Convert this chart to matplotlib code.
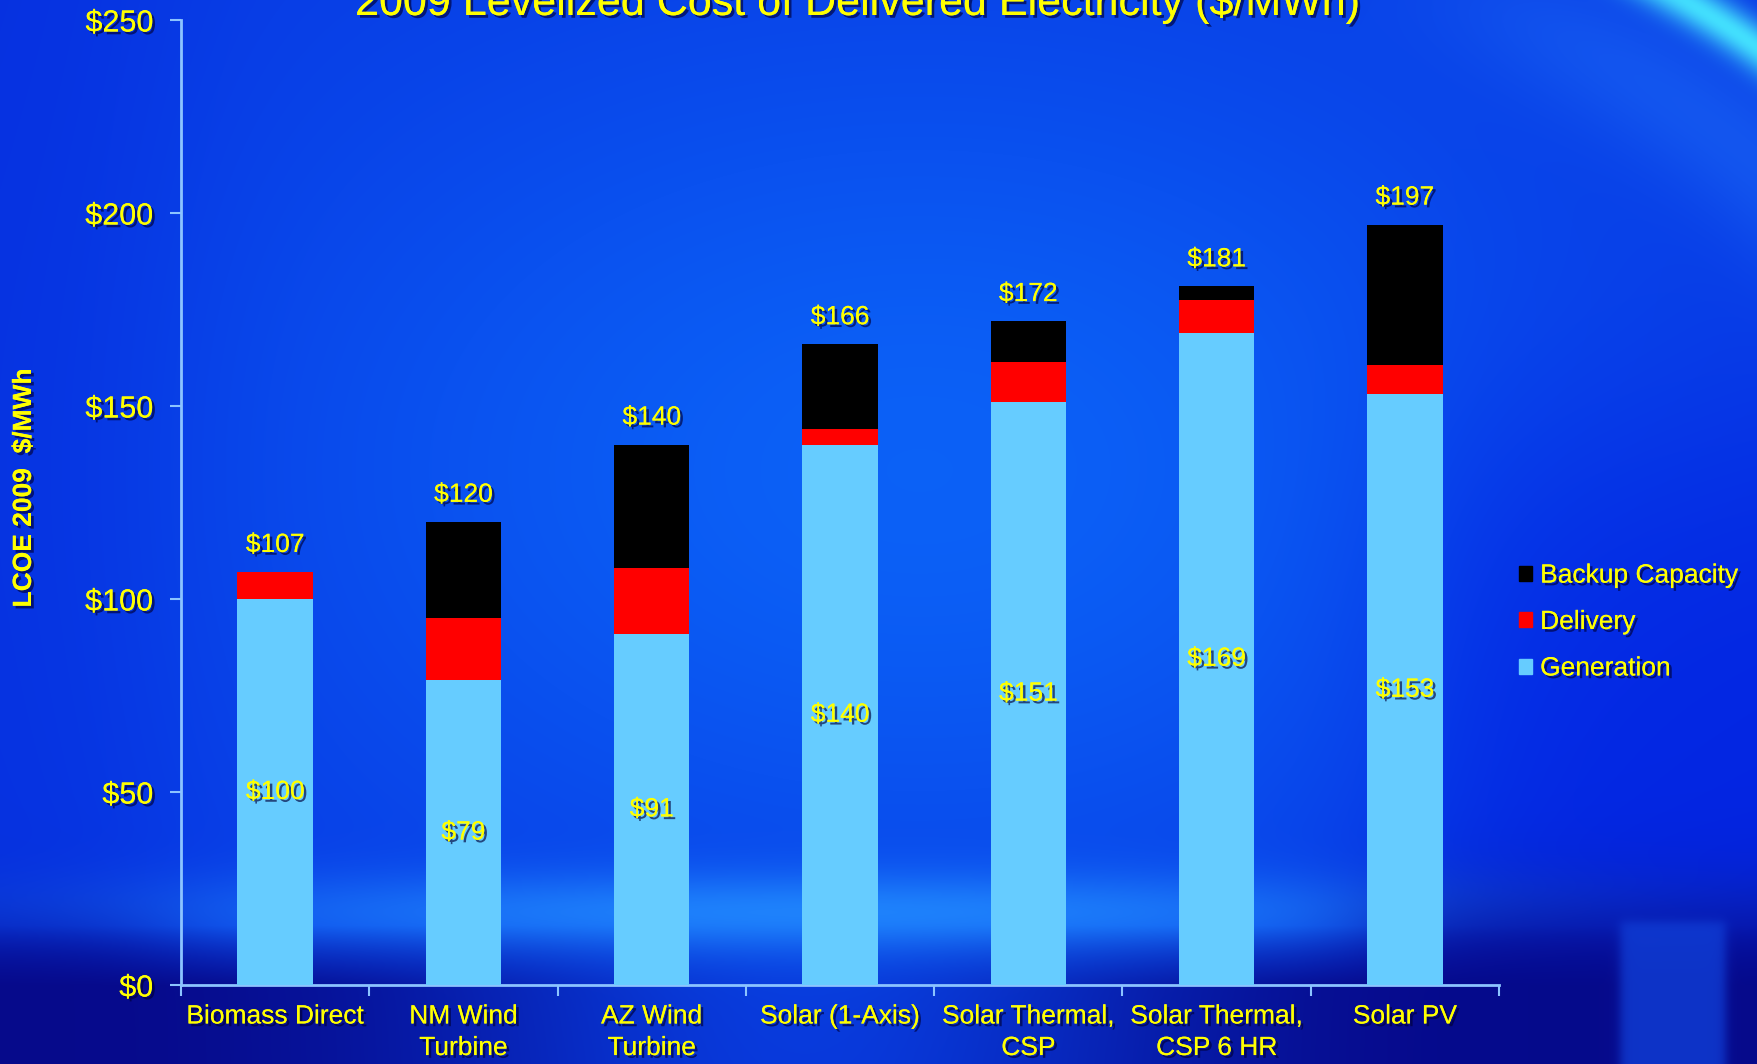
import numpy as np
import matplotlib
matplotlib.use("Agg")
import matplotlib.pyplot as plt
import matplotlib.patheffects as pe
from matplotlib.patches import Patch

# ---- data ($/MWh, 2009) ----
categories = ["Biomass Direct", "NM Wind\nTurbine", "AZ Wind\nTurbine", "Solar (1-Axis)",
              "Solar Thermal,\nCSP", "Solar Thermal,\nCSP 6 HR", "Solar PV"]
generation = [100, 79, 91, 140, 151, 169, 153]
delivery = [7, 16, 17, 4, 10.5, 8.5, 7.5]
backup = [0, 25, 32, 22, 10.5, 3.5, 36.5]
series_names = ["Generation", "Delivery", "Backup Capacity"]
y_ticks = [0, 50, 100, 150, 200, 250]

W, H = 1758, 1064
FONT = "Liberation Sans"
YELLOW = "#ffff00"
AXIS_COLOR = "#8cc4ff"
GEN_COLOR = "#66ccff"
DEL_COLOR = "#ff0000"
BAK_COLOR = "#000000"

shadow = [pe.withSimplePatchShadow(offset=(2, -2), shadow_rgbFace="#00003a", alpha=0.65),
          pe.Normal()]

fig = plt.figure(figsize=(W / 100, H / 100), dpi=100)

# ---- slide-style blue background ----
yy, xx = np.mgrid[0:H, 0:W].astype(float)
img = np.empty((H, W, 3))
img[:] = np.array([8, 58, 228]) / 255.0


def blend(im, color, w):
    c = np.array(color) / 255.0
    w = np.clip(w, 0, 1)[..., None]
    return im * (1 - w) + c * w


def sig(v):
    return 1.0 / (1.0 + np.exp(-v))


img = blend(img, (12, 104, 250), 0.85 * np.exp(-((xx - 920) / 680) ** 2 - ((yy - 470) / 440) ** 2))
img = blend(img, (0, 20, 224), 0.6 * sig((xx - 1420) / 60) * sig((yy - 430) / 90))
img = blend(img, (4, 38, 220), 0.5 * sig((150 - xx) / 60))
img = blend(img, (34, 140, 255),
            0.85 * np.exp(-((yy - 912) / 40) ** 2) * np.exp(-((xx - 820) / 640) ** 2))
img = blend(img, (6, 10, 138),
            np.clip((yy - 925) / 60, 0, 1) * (1 - 0.88 * np.exp(-((xx - 800) / 380) ** 2)))
img = blend(img, (6, 10, 140), 0.8 * sig((xx - 1380) / 40) * sig((yy - 900) / 25))
img = blend(img, (6, 10, 140), 0.7 * sig((160 - xx) / 40) * sig((yy - 930) / 25))
# top-right light arc
r = np.sqrt((xx - 1250) ** 2 + (yy - 760) ** 2)
d = r - 875
img = blend(img, (40, 130, 255), 0.35 * np.exp(-((d + 90) / 70) ** 2) * sig((xx - 1480) / 60))
img = blend(img, (70, 232, 255), 0.95 * np.exp(-(d / 22) ** 2) * sig((xx - 1590) / 25))
# translucent square, bottom right
sq = sig((xx - 1620) / 3) * sig((1725 - xx) / 3) * sig((yy - 921) / 3)
img = blend(img, (16, 62, 214), 0.8 * sq)

bg = fig.add_axes([0, 0, 1, 1], zorder=-10)
bg.imshow(img, aspect="auto", extent=(0, 1, 0, 1), interpolation="bilinear")
bg.set_axis_off()

# ---- main chart axes ----
ax_left, ax_right = 181 / W, 1499 / W
ax_bottom, ax_top = 1 - 985 / H, 1 - 20 / H
ax = fig.add_axes([ax_left, ax_bottom, ax_right - ax_left, ax_top - ax_bottom])
ax.set_facecolor("none")

x = np.arange(len(categories))
gen = np.array(generation, dtype=float)
dlv = np.array(delivery, dtype=float)
bak = np.array(backup, dtype=float)
bw = 0.40

ax.bar(x, gen, bw, color=GEN_COLOR, label=series_names[0], zorder=3)
ax.bar(x, dlv, bw, bottom=gen, color=DEL_COLOR, label=series_names[1], zorder=3)
ax.bar(x, bak, bw, bottom=gen + dlv, color=BAK_COLOR, label=series_names[2], zorder=3)

totals = gen + dlv + bak
for xi, g, t in zip(x, gen, totals):
    ax.text(xi, g / 2, f"${g:.0f}", ha="center", va="center", color=YELLOW,
            fontsize=19, family=FONT, path_effects=shadow, zorder=5)
    ax.annotate(f"${t:.0f}", (xi, t), xytext=(0, 20), textcoords="offset pixels",
                ha="center", va="baseline", color=YELLOW, fontsize=19, family=FONT,
                path_effects=shadow, zorder=5)

ax.set_xlim(-0.5, len(categories) - 0.5)
ax.set_ylim(0, 250)

for s in ["top", "right"]:
    ax.spines[s].set_visible(False)
for s in ["left", "bottom"]:
    ax.spines[s].set_color(AXIS_COLOR)
    ax.spines[s].set_linewidth(2)

ax.set_yticks(y_ticks)
ax.set_yticklabels([f"${v}" for v in y_ticks])
ax.tick_params(axis="y", direction="out", length=8, width=1.5, color=AXIS_COLOR,
               pad=12, labelsize=22, labelcolor=YELLOW)

ax.set_xticks(x)
ax.set_xticklabels(categories, linespacing=1.4)
ax.set_xticks(np.arange(len(categories) + 1) - 0.5, minor=True)
ax.tick_params(axis="x", which="major", length=0, pad=14, labelsize=19, labelcolor=YELLOW)
ax.tick_params(axis="x", which="minor", direction="out", length=8, width=1.5, color=AXIS_COLOR)

for lab in ax.get_xticklabels() + ax.get_yticklabels():
    lab.set_family(FONT)
    lab.set_path_effects(shadow)

# ---- legend ----
handles = [Patch(color=BAK_COLOR), Patch(color=DEL_COLOR), Patch(color=GEN_COLOR)]
leg = fig.legend(handles, [series_names[2], series_names[1], series_names[0]],
                 loc="center left", bbox_to_anchor=(1519 / W, 1 - 622 / H),
                 bbox_transform=fig.transFigure, frameon=False,
                 handlelength=0.5, handleheight=0.5, handletextpad=0.3,
                 labelspacing=0.85, borderpad=0, borderaxespad=0,
                 prop={"family": FONT, "size": 19})
for t in leg.get_texts():
    t.set_color(YELLOW)
    t.set_path_effects(shadow)

# ---- titles ----
fig.text(857 / W, 1 - 15 / H, "2009 Levelized Cost of Delivered Electricity ($/MWh)",
         ha="center", va="baseline", color=YELLOW, fontsize=31, family=FONT,
         path_effects=shadow)
fig.text(24 / W, 1 - 488 / H, "LCOE 2009  $/MWh", rotation=90, ha="center", va="center",
         color=YELLOW, fontsize=19, fontweight="bold", family=FONT, path_effects=shadow)

fig.savefig("out.png", dpi=100)
